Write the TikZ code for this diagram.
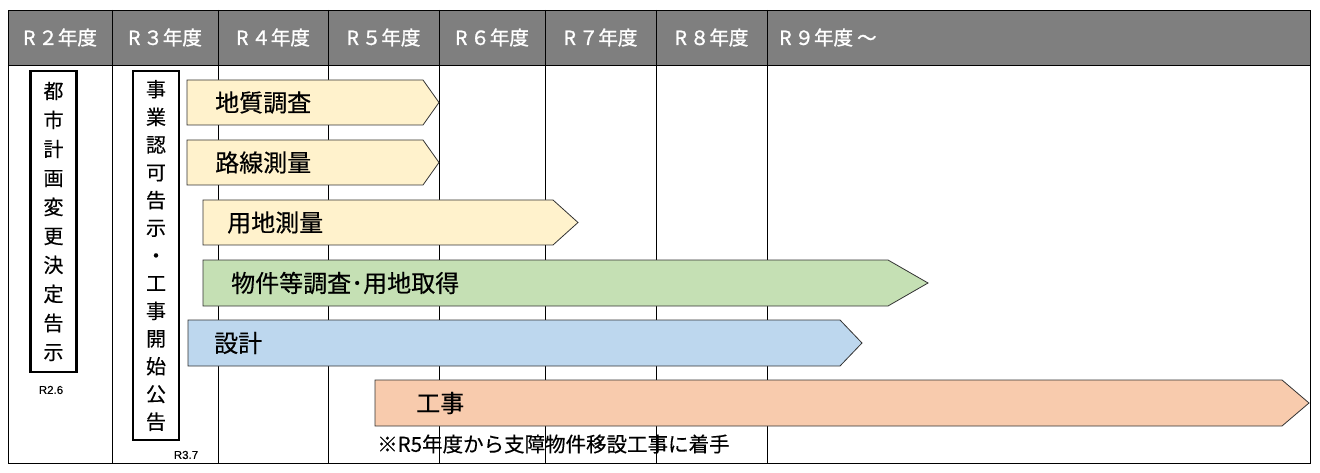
\documentclass[tikz,border=0pt]{standalone}
\usepackage{fontspec}
\setmainfont{Noto Sans CJK JP}[FakeBold=0.3]
\newfontfamily\headfont{Noto Sans CJK JP}[FakeBold=1.2]
\newfontfamily\datefont{Liberation Sans}[FakeBold=0.4]

\definecolor{headgray}{HTML}{7F7F7F}
\definecolor{surveyfill}{HTML}{FFF2CC}
\definecolor{landfill}{HTML}{C5E0B4}
\definecolor{designfill}{HTML}{BDD7EE}
\definecolor{worksfill}{HTML}{F8CBAD}

\tikzset{
	headtext/.style = {text = white, font = \headfont\fontsize{19.5}{19.5}\selectfont, inner sep = 0},
	noticebox/.style = {draw = black, line width = 2.6pt, align = center, inner sep = 0,
		minimum width = 46, font = \fontsize{20}{29}\selectfont},
	phase/.style = {draw = black!80, line width = 0.8pt},
	phaselabel/.style = {anchor = west, inner sep = 0, font = \fontsize{24}{24}\selectfont},
	datelabel/.style = {inner sep = 0, font = \datefont\fontsize{11.5}{11.5}\selectfont}
}

\begin{document}
\begin{tikzpicture}[x = 1pt, y = -1pt]

	\useasboundingbox (0, 0) rectangle (1320, 473);

	% Header row

	\fill [headgray] (8, 10) rectangle (1310, 65);

	\foreach \lx/\rx/\yr [count = \i] in {8/112/２, 112/218/３, 218/328/４, 328/439/５, 439/545/６, 545/656/７, 656/767/８}
		\node [headtext] (head\i) at ({(\lx + \rx) / 2}, 37.5) {R\hspace{3pt}\yr 年度};
	\node [headtext, anchor = west] (head9) at (779, 37.5) {R\hspace{3pt}９年度\hspace{4pt}～};

	% Grid

	\begin{scope}[line width = 0.8pt]

		\foreach \cx in {112, 218, 328, 439, 545, 656, 767}
			\draw (\cx, 10) -- (\cx, 463);
		\draw (8, 65) -- (1310, 65);
		\draw (8, 10) rectangle (1310, 463);

	\end{scope}

	% Notices

	\node [noticebox, minimum height = 301] (plannotice) at (53.5, 221.5)
		{都\\市\\計\\画\\変\\更\\決\\定\\告\\示};
	\node [noticebox, minimum height = 369, font = \fontsize{20}{27.7}\selectfont] (worksnotice) at (156, 255.5)
		{事\\業\\認\\可\\告\\示\\・\\工\\事\\開\\始\\公\\告};

	\node [datelabel] (plandate) at (51, 390) {R2.6};
	\node [datelabel] (worksdate) at (186, 455) {R3.7};

	% Phases

	\filldraw [phase, fill = surveyfill] (187, 80) -- (423, 80) -- (439, 102.5) -- (423, 125) -- (187, 125) -- cycle;
	\filldraw [phase, fill = surveyfill] (187, 140) -- (423, 140) -- (439, 162.5) -- (423, 185) -- (187, 185) -- cycle;
	\filldraw [phase, fill = surveyfill] (203, 200) -- (553, 200) -- (578, 222.5) -- (553, 245) -- (203, 245) -- cycle;
	\filldraw [phase, fill = landfill] (203, 260) -- (888, 260) -- (928, 283) -- (888, 306) -- (203, 306) -- cycle;
	\filldraw [phase, fill = designfill] (188, 320) -- (840, 320) -- (862, 343) -- (840, 366) -- (188, 366) -- cycle;
	\filldraw [phase, fill = worksfill] (375, 380) -- (1282, 380) -- (1309, 403) -- (1282, 426) -- (375, 426) -- cycle;

	\node [phaselabel] (geology) at (215, 102.5) {地質調査};
	\node [phaselabel] (route) at (215, 162.5) {路線測量};
	\node [phaselabel] (landsurvey) at (227, 222.5) {用地測量};
	\node [phaselabel] (acquisition) at (231, 283) {物件等調査･用地取得};
	\node [phaselabel] (design) at (214, 343) {設計};
	\node [phaselabel] (works) at (416, 403) {工事};

	% Note

	\node [phaselabel, font = \fontsize{20.5}{20.5}\selectfont] (worksnote) at (377, 444)
		{※R5年度から支障物件移設工事に着手};

\end{tikzpicture}
\end{document}
